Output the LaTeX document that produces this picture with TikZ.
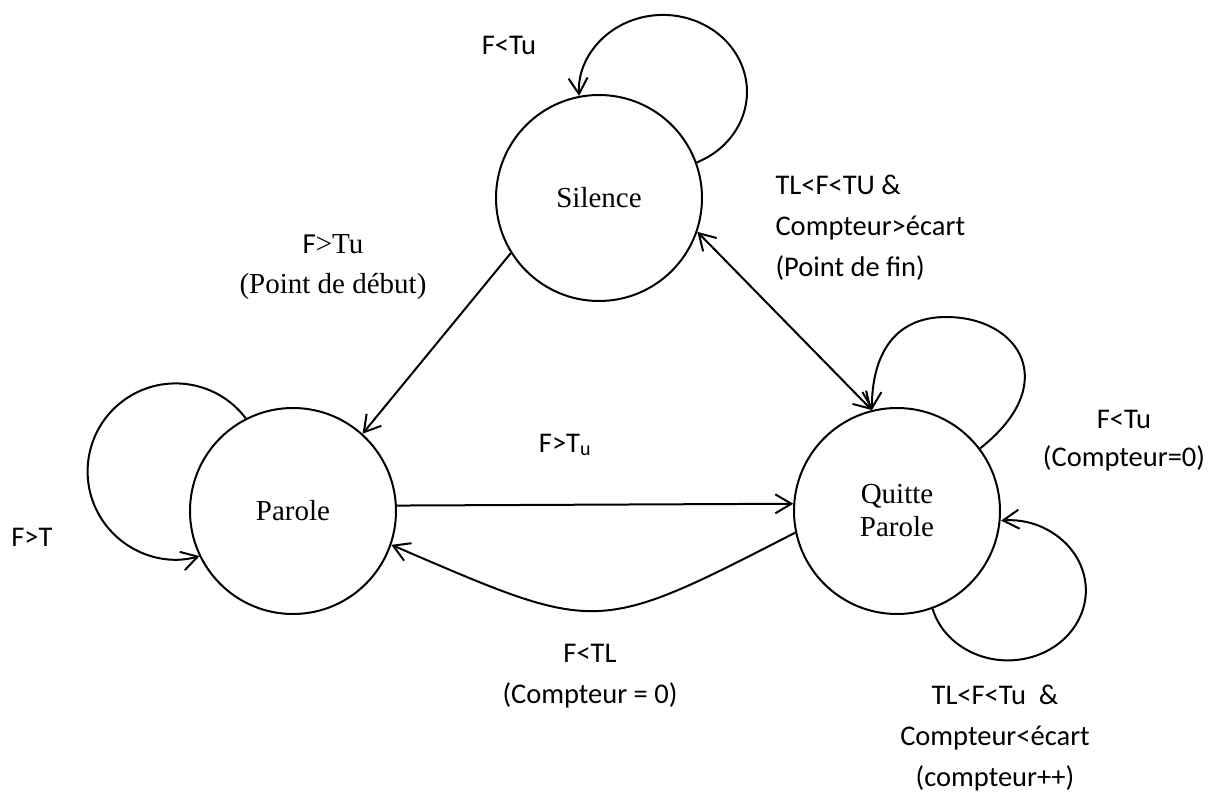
\documentclass[tikz,border=0pt]{standalone}
\usepackage{fontspec}
\setmainfont{Liberation Serif}
\newfontfamily\calibri{Carlito}
\usetikzlibrary{arrows.meta}
\begin{document}
\begin{tikzpicture}[x=1pt,y=1pt,
  state/.style={circle,draw,line width=2pt,minimum size=206pt,inner sep=0pt,
    font=\fontsize{29}{33}\selectfont,align=center},
  edge/.style={line width=2pt},
  >={Straight Barb[length=16pt,width=19pt]},
  lbl/.style={font=\calibri\fontsize{28.5}{41}\selectfont,align=center},
  slbl/.style={font=\fontsize{29}{40}\selectfont,align=center}]
\useasboundingbox (0,0) rectangle (1210,-794);

% states
\node[state] (S) at (599,-198) {Silence};
\node[state] (P) at (293,-511) {Parole};
\node[state] (Q) at (897,-511) {Quitte\\Parole};

% transitions between states
\draw[edge,->] (S.212) -- (P.48.4);
\draw[edge,<->] (S.-19.5) -- (Q.104.2);
\draw[edge,->] (P.3.3) -- (Q.176.7);
\draw[edge,->] (Q.192.5) .. controls (594,-636) and (599,-634) .. (P.-19.3);

% self loops
\draw[edge,->] (S.20.2) arc[start angle=-66.3, end angle=183, x radius=84pt, y radius=77pt];
\draw[edge,->] (P.117) arc[start angle=37.1, end angle=285.8, radius=88pt];
\draw[edge,->] (Q.-70) arc[start angle=195.2, end angle=455, x radius=78pt, y radius=70pt];
\draw[edge,->] (Q.37.2) .. controls (1062,-384) and (1020,-317) .. (946,-317)
  .. controls (894,-317) and (872,-355) .. (Q.104.2);

% transition labels
\node[lbl] (lSS) at (509,-45) {F<Tu};
\node[slbl] (lSP) at (333,-267) {{\calibri F}>Tu\\(Point de début)};
\node[lbl,anchor=west,align=left] (lSQ) at (772,-228) {TL<F<TU \&\\Compteur>écart\\(Point de fin)};
\node[lbl] (lPP) at (32,-537) {F>T};
\node[lbl] (lPQ) at (565,-445) {F>T\textsubscript{u}};
\node[lbl] (lQP) at (590,-676) {F<TL\\(Compteur = 0)};
\node[lbl,font=\calibri\fontsize{28.5}{38}\selectfont] (lQQa) at (1124,-441) {F<Tu\\(Compteur=0)};
\node[lbl] (lQQb) at (995,-738) {TL<F<Tu~~\&\\Compteur<écart\\(compteur++)};
\end{tikzpicture}
\end{document}
